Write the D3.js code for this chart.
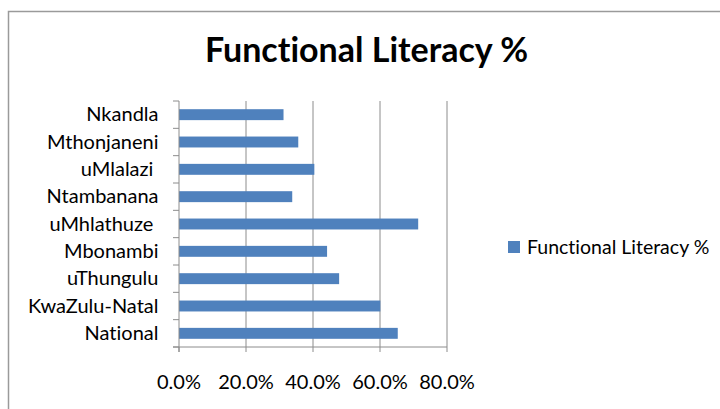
<!DOCTYPE html>
<html>
<head>
<meta charset="utf-8">
<script src="https://cdn.jsdelivr.net/npm/d3@7/dist/d3.min.js"></script>
<style>
  html, body { margin: 0; padding: 0; background: #fff; }
  svg { display: block; }
  text { font-family: Lato, "Open Sans", sans-serif; fill: #000; font-variant-ligatures: none; }
</style>
</head>
<body>
<svg id="chart" width="720" height="409"></svg>
<script>
// Categories, top to bottom as listed on the axis
const categories = ["Nkandla", "Mthonjaneni", "uMlalazi ", "Ntambanana", "uMhlathuze ",
                    "Mbonambi", "uThungulu", "KwaZulu-Natal", "National"];
// Functional literacy share for each area
const literacy = [0.312, 0.356, 0.404, 0.338, 0.714, 0.442, 0.478, 0.601, 0.653];
const xTicks = [0, 0.2, 0.4, 0.6, 0.8];
const seriesName = "Functional Literacy %";
const chartTitle = "Functional Literacy %";

const svg = d3.select("#chart");
const barColor = "#4F81BD";
const gridColor = "#8C8C8C";

// Outer chart frame (runs past the right and bottom edges)
svg.append("rect")
  .attr("x", 8.5).attr("y", 11.5)
  .attr("width", 760).attr("height", 420)
  .attr("fill", "#fff").attr("stroke", "#9A9A9A").attr("stroke-width", 1.5);

svg.append("text")
  .attr("x", 366.5).attr("y", 62)
  .attr("text-anchor", "middle")
  .style("font-weight", "bold").style("font-size", "34px")
  .text(chartTitle);

const plot = { left: 179, right: 447, top: 101, bottom: 347 };

const x = d3.scaleLinear().domain([0, 0.8]).range([plot.left, plot.right]);
const y = d3.scaleBand().domain(categories).range([plot.top, plot.bottom])
  .paddingInner(0.6).paddingOuter(0.3);
const yb = d3.scaleBand().domain(categories).range([plot.top, plot.bottom]);

// Vertical gridlines
svg.append("g").selectAll("line")
  .data(xTicks.filter(d => d > 0))
  .join("line")
  .attr("x1", d => x(d)).attr("x2", d => x(d))
  .attr("y1", plot.top).attr("y2", plot.bottom)
  .attr("stroke", gridColor).attr("stroke-width", 1);

// Bars
svg.append("g").selectAll("rect")
  .data(categories.map((c, i) => ({ c, v: literacy[i] })))
  .join("rect")
  .attr("x", x(0))
  .attr("y", d => y(d.c))
  .attr("width", d => x(d.v) - x(0))
  .attr("height", y.bandwidth())
  .attr("fill", barColor);

// Category axis with ticks at band boundaries
const yAxisG = svg.append("g");
yAxisG.append("line")
  .attr("x1", plot.left).attr("x2", plot.left)
  .attr("y1", plot.top).attr("y2", plot.bottom + 5)
  .attr("stroke", gridColor);
yAxisG.selectAll("line.tick")
  .data(categories.concat(["end"]))
  .join("line").attr("class", "tick")
  .attr("x1", plot.left - 6).attr("x2", plot.left)
  .attr("y1", (d, i) => i < categories.length ? yb(d) : plot.bottom)
  .attr("y2", (d, i) => i < categories.length ? yb(d) : plot.bottom)
  .attr("stroke", gridColor);
yAxisG.selectAll("text")
  .data(categories)
  .join("text")
  .attr("x", 158.5)
  .attr("y", d => yb(d) + yb.bandwidth() / 2)
  .attr("dy", "0.33em")
  .attr("text-anchor", "end")
  .style("white-space", "pre")
  .style("font-size", "20px")
  .text(d => d);

// Value axis
const xAxisG = svg.append("g");
xAxisG.append("line")
  .attr("x1", plot.left - 6).attr("x2", plot.right)
  .attr("y1", plot.bottom).attr("y2", plot.bottom)
  .attr("stroke", gridColor);
xAxisG.selectAll("line.tick")
  .data(xTicks)
  .join("line").attr("class", "tick")
  .attr("x1", d => x(d)).attr("x2", d => x(d))
  .attr("y1", plot.bottom).attr("y2", plot.bottom + 5)
  .attr("stroke", gridColor);
xAxisG.selectAll("text")
  .data(xTicks)
  .join("text")
  .attr("x", d => x(d))
  .attr("y", 389)
  .attr("text-anchor", "middle")
  .style("font-size", "20px")
  .text(d3.format(".1%"));

// Legend
const legend = svg.append("g");
legend.append("rect")
  .attr("x", 508).attr("y", 241).attr("width", 12).attr("height", 12)
  .attr("fill", barColor);
legend.append("text")
  .attr("x", 527).attr("y", 253.5)
  .style("font-size", "19.5px")
  .text(seriesName);
</script>
</body>
</html>
